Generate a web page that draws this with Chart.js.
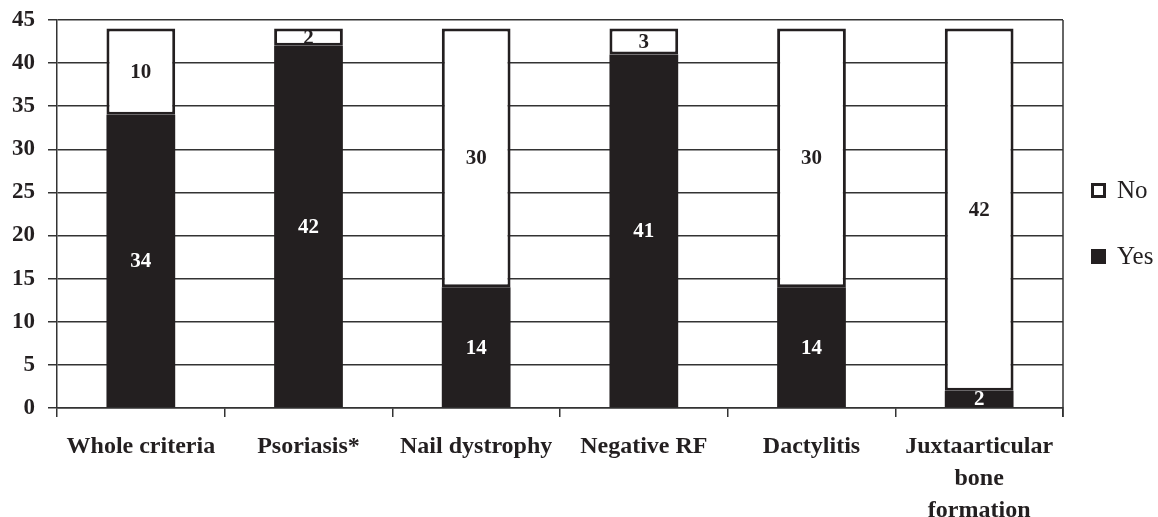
<!DOCTYPE html>
<html>
<head>
<meta charset="utf-8">
<script src="https://cdn.jsdelivr.net/npm/chart.js@4.4.1/dist/chart.umd.min.js"></script>
<style>
  html, body { margin:0; padding:0; background:#fff; }
  #wrap { position:relative; width:1158px; height:517px; }
  #legend { position:absolute; left:1091px; top:174px; font-family:"Liberation Serif", serif; font-size:25px; color:#231f20; }
  #legend div { display:flex; align-items:center; height:32px; margin-bottom:34px; }
  #legend span.box { display:inline-block; box-sizing:border-box; width:15px; height:15px; border:3px solid #231f20; margin-right:11px; }
</style>
</head>
<body>
<div id="wrap">
  <canvas id="chart" width="1158" height="517"></canvas>
  <div id="legend">
    <div><span class="box" style="background:#fff"></span>No</div>
    <div><span class="box" style="background:#231f20"></span>Yes</div>
  </div>
</div>
<script>
const categories = ["Whole criteria", "Psoriasis*", "Nail dystrophy", "Negative RF", "Dactylitis", ["Juxtaarticular", "bone", "formation"]];
const yesValues = [34, 42, 14, 41, 14, 2];
const noValues  = [10, 2, 30, 3, 30, 42];
const yTicks = [0, 5, 10, 15, 20, 25, 30, 35, 40, 45];

const INK = "#231f20";
const FONT = "'Liberation Serif', 'Times New Roman', serif";

// numbers inside each bar segment
const valueLabels = {
  id: "valueLabels",
  afterDatasetsDraw(chart) {
    const ctx = chart.ctx;
    ctx.save();
    ctx.font = "bold 21px " + FONT;
    ctx.textAlign = "center";
    ctx.textBaseline = "middle";
    chart.data.datasets.forEach((ds, i) => {
      chart.getDatasetMeta(i).data.forEach((bar, j) => {
        const mid = (bar.y + bar.base) / 2;
        ctx.fillStyle = i === 0 ? "#fff" : INK;
        ctx.fillText(ds.data[j], bar.x, mid + 1);
      });
    });
    ctx.restore();
  }
};

// right frame line of the plot area
const rightFrame = {
  id: "rightFrame",
  beforeDatasetsDraw(chart) {
    const { ctx, chartArea } = chart;
    ctx.save();
    ctx.strokeStyle = "#333";
    ctx.lineWidth = 1.5;
    ctx.beginPath();
    ctx.moveTo(chartArea.right, chartArea.top);
    ctx.lineTo(chartArea.right, chartArea.bottom + 9);
    ctx.stroke();
    ctx.restore();
  }
};

new Chart(document.getElementById("chart").getContext("2d"), {
  type: "bar",
  data: {
    labels: categories,
    datasets: [
      { label: "Yes", data: yesValues, backgroundColor: INK, borderColor: INK, borderWidth: 0 },
      { label: "No", data: noValues, backgroundColor: "#fff", borderColor: INK, borderWidth: 3, borderSkipped: false }
    ]
  },
  options: {
    responsive: false,
    animation: false,
    layout: { padding: { top: 0, right: 95, left: 0, bottom: 0 } },
    datasets: { bar: { categoryPercentage: 1, barPercentage: 0.41 } },
    plugins: { legend: { display: false }, tooltip: { enabled: false } },
    scales: {
      x: {
        stacked: true,
        grid: { offset: true, drawOnChartArea: false, color: "#333", lineWidth: 1.5, tickLength: 9 },
        border: { color: "#333", width: 1.5 },
        ticks: { color: INK, font: { family: FONT, size: 24, weight: "bold", lineHeight: 1.33 }, maxRotation: 0, padding: 14 },
        afterFit(scale) { scale.height = 109; }
      },
      y: {
        stacked: true,
        min: 0, max: 45,
        afterBuildTicks(scale) { scale.ticks = yTicks.map(v => ({ value: v })); },
        grid: { color: "#333", lineWidth: 1.5, tickLength: 9 },
        border: { color: "#333", width: 1.5 },
        ticks: { color: INK, font: { family: FONT, size: 23, weight: "bold" }, padding: 13 },
        afterFit(scale) { scale.width = 57; scale.paddingTop = 20; }
      }
    }
  },
  plugins: [valueLabels, rightFrame]
});
</script>
</body>
</html>
